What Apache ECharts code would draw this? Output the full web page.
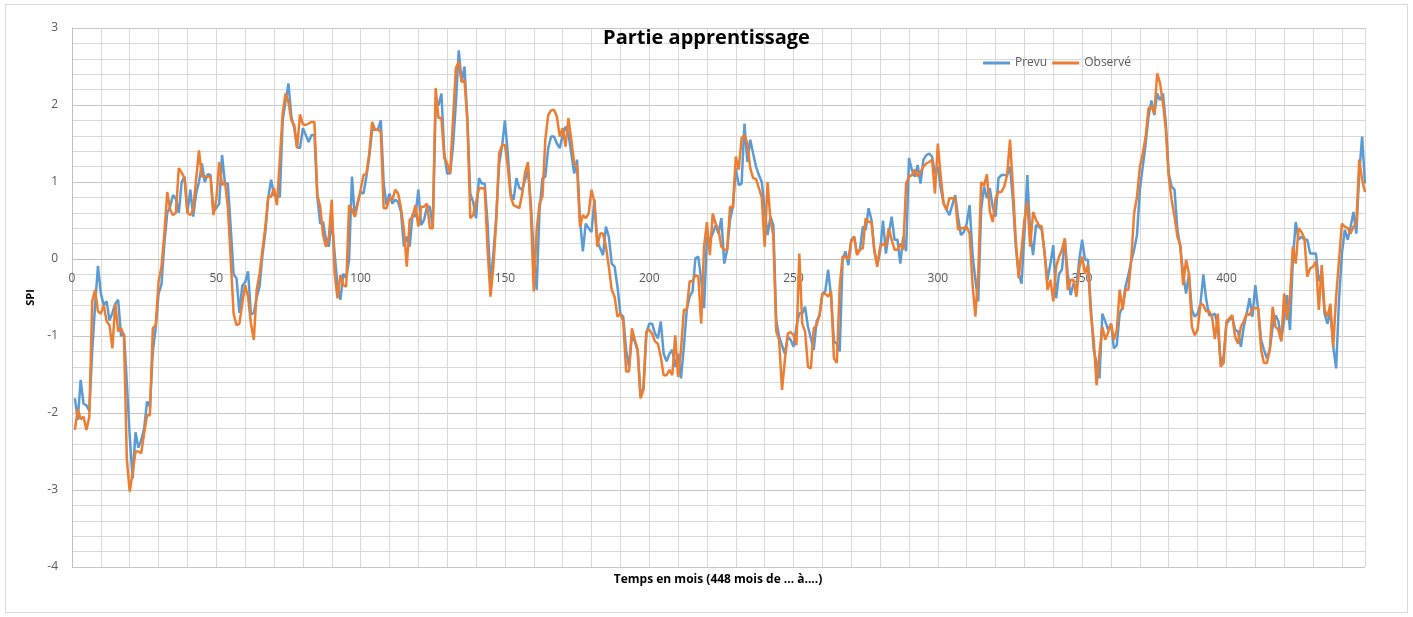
<!DOCTYPE html>
<html>
<head>
<meta charset="utf-8">
<title>Partie apprentissage</title>
<script src="https://cdn.jsdelivr.net/npm/echarts@6/dist/echarts.min.js"></script>
<style>
html, body { margin: 0; padding: 0; background: #fff; }
#frame { position: absolute; left: 5px; top: 4px; width: 1403px; height: 609px; border: 1px solid #d9d9d9; box-sizing: border-box; }
#chart { position: absolute; left: 0; top: 0; width: 1413px; height: 617px; }
</style>
</head>
<body>
<div id="frame"></div>
<div id="chart"></div>
<script>
// SPI values, month 1..448
const prevu = [
  -1.81, -2.09, -1.57, -1.88, -1.9, -1.97, -1.2, -0.6, -0.09, -0.45,
  -0.6, -0.55, -0.8, -0.7, -0.58, -0.53, -1.0, -0.97, -1.6, -2.3,
  -2.85, -2.25, -2.45, -2.35, -2.2, -1.85, -1.92, -1.2, -0.9, -0.45,
  -0.33, 0.2, 0.6, 0.68, 0.83, 0.78, 0.6, 1.0, 1.07, 0.6,
  0.9, 0.55, 0.85, 1.0, 1.24, 1.0, 1.1, 1.09, 0.62, 0.66,
  0.72, 1.35, 0.98, 0.98, 0.4, -0.2, -0.25, -0.7, -0.35, -0.3,
  -0.16, -0.72, -0.7, -0.5, -0.35, 0.05, 0.35, 0.8, 1.03, 0.83,
  0.8, 0.81, 1.8, 2.05, 2.28, 1.85, 1.7, 1.45, 1.44, 1.7,
  1.61, 1.52, 1.61, 1.61, 0.81, 0.46, 0.48, 0.25, 0.16, 0.51,
  0.07, -0.36, -0.53, -0.19, -0.25, -0.01, 1.07, 0.55, 0.74, 0.87,
  0.85, 1.07, 1.33, 1.68, 1.68, 1.68, 1.8, 0.98, 0.7, 0.85,
  0.72, 0.77, 0.74, 0.61, 0.16, 0.29, 0.16, 0.58, 0.55, 0.9,
  0.44, 0.51, 0.68, 0.68, 0.4, 2.0, 2.0, 2.15, 1.37, 1.11,
  1.11, 1.46, 2.02, 2.71, 2.3, 2.5, 1.8, 0.85, 0.74, 0.53,
  1.05, 0.98, 0.98, 0.46, -0.32, 0.07, 0.55, 1.24, 1.46, 1.8,
  1.37, 0.85, 0.77, 1.05, 0.92, 0.9, 1.03, 1.15, 0.7, 0.07,
  -0.4, 0.64, 1.05, 1.07, 1.44, 1.59, 1.59, 1.5, 1.44, 1.61,
  1.72, 1.63, 1.37, 1.11, 1.29, 0.51, 0.1, 0.46, 0.4, 0.35,
  0.77, 0.23, 0.14, 0.05, 0.42, 0.29, -0.06, -0.1, -0.36, -0.71,
  -0.75, -1.18, -1.4, -1.0, -1.07, -1.2, -1.79, -1.67, -0.97, -0.84,
  -0.84, -0.97, -1.03, -0.81, -1.23, -1.33, -1.23, -1.18, -1.4, -1.23,
  -1.55, -1.14, -0.66, -0.49, -0.42, 0.01, 0.03, -0.27, -0.64, 0.29,
  0.25, 0.33, 0.44, 0.33, 0.53, -0.06, 0.12, 0.51, 0.68, 1.18,
  0.96, 0.98, 1.76, 1.26, 1.55, 1.37, 1.2, 1.09, 1.0, 0.65,
  0.31, 0.55, 0.44, -0.79, -1.01, -1.12, -1.23, -1.01, -1.05, -1.14,
  -0.88, -0.7, -0.71, -0.62, -0.88, -1.03, -1.18, -0.81, -0.73, -0.45,
  -0.42, -0.14, -0.49, -1.07, -1.1, -1.2, -0.01, 0.1, -0.08, 0.25,
  0.29, 0.07, 0.12, 0.42, 0.38, 0.66, 0.51, 0.12, -0.08, 0.1,
  0.5, 0.07, 0.33, 0.55, 0.25, 0.25, -0.06, 0.29, 0.1, 1.31,
  1.16, 1.07, 1.22, 0.98, 1.29, 1.35, 1.37, 1.33, 1.11, 1.2,
  0.92, 0.72, 0.64, 0.57, 0.7, 0.83, 0.55, 0.31, 0.35, 0.46,
  0.7, 0.07, -0.27, -0.55, 0.64, 0.94, 0.79, 0.92, 0.68, 0.55,
  1.05, 1.09, 1.09, 1.09, 1.2, 0.77, 0.16, -0.19, -0.32, 0.33,
  1.09, 0.33, 0.05, 0.44, 0.42, 0.38, 0.07, -0.27, -0.06, 0.18,
  -0.51, -0.19, -0.14, 0.25, -0.19, -0.47, -0.32, -0.38, -0.01, 0.25,
  -0.01, -0.01, -0.62, -1.18, -1.35, -1.55, -0.71, -0.81, -0.92, -0.84,
  -1.16, -1.12, -0.71, -0.62, -0.36, -0.21, -0.03, 0.12, 0.31, 0.9,
  1.2, 1.5, 1.85, 2.06, 1.87, 2.15, 2.06, 2.15, 1.76, 1.11,
  0.94, 0.9, 0.38, 0.16, -0.19, -0.45, -0.19, -0.66, -0.75, -0.71,
  -0.58, -0.2, -0.53, -0.73, -0.73, -0.71, -0.88, -1.36, -1.27, -0.84,
  -0.79, -0.75, -0.92, -0.94, -1.14, -0.88, -0.71, -0.51, -0.75, -0.34,
  -0.66, -1.05, -1.18, -1.29, -1.18, -0.88, -0.73, -0.81, -1.05, -0.79,
  -0.47, -0.92, -0.01, 0.48, 0.25, 0.29, 0.25, 0.25, 0.07, 0.07,
  0.07, -0.29, -0.19, -0.71, -0.84, -0.68, -1.14, -1.42, -0.53, 0.07,
  0.38, 0.25, 0.42, 0.61, 0.33, 1.11, 1.59, 0.98
];

const observe = [
  -2.22, -1.95, -2.08, -2.05, -2.22, -2.05, -0.55, -0.4, -0.68, -0.71,
  -0.6, -0.81, -0.86, -1.16, -0.58, -0.94, -0.9, -1.0, -2.6, -3.02,
  -2.78, -2.5, -2.5, -2.52, -2.26, -2.03, -2.03, -0.9, -0.86, -0.29,
  -0.1, 0.33, 0.87, 0.64, 0.57, 0.6, 1.18, 1.12, 1.05, 0.6,
  0.57, 0.64, 1.03, 1.41, 1.07, 1.07, 1.07, 1.07, 0.57, 0.77,
  1.26, 0.96, 1.0, 0.68, -0.01, -0.71, -0.86, -0.84, -0.58, -0.34,
  -0.49, -0.84, -1.05, -0.4, -0.19, 0.12, 0.42, 0.81, 0.81, 0.92,
  0.7, 1.29, 1.89, 2.15, 2.04, 1.8, 1.74, 1.44, 1.88, 1.75,
  1.74, 1.76, 1.78, 1.78, 0.83, 0.68, 0.31, 0.16, 0.29, 0.77,
  -0.19, -0.51, -0.21, -0.34, -0.36, 0.7, 0.64, 0.55, 0.72, 0.9,
  1.09, 1.11, 1.37, 1.78, 1.68, 1.68, 1.65, 0.66, 0.66, 0.79,
  0.77, 0.9, 0.85, 0.66, 0.38, -0.1, 0.51, 0.55, 0.7, 0.42,
  0.68, 0.68, 0.72, 0.4, 0.4, 2.22, 1.83, 1.83, 1.31, 1.24,
  1.11, 1.8, 2.48, 2.56, 2.3, 2.32, 1.8, 0.53, 0.57, 0.74,
  0.92, 0.92, 0.92, 0.12, -0.49, -0.1, 0.51, 1.37, 1.48, 1.48,
  1.2, 0.81, 0.7, 0.68, 0.66, 0.85, 1.13, 1.26, 0.6, -0.42,
  0.38, 0.72, 0.81, 1.55, 1.87, 1.93, 1.94, 1.85, 1.59, 1.7,
  1.46, 1.83, 1.55, 1.24, 1.2, 0.42, 0.57, 0.53, 0.59, 0.9,
  0.74, 0.16, 0.33, 0.33, 0.16, -0.1, -0.4, -0.49, -0.75, -0.71,
  -0.81, -1.46, -1.46, -0.9, -1.05, -1.18, -1.81, -1.7, -0.94, -0.92,
  -0.97, -1.07, -1.1, -1.27, -1.51, -1.51, -1.44, -1.51, -0.99, -1.53,
  -1.18, -0.66, -0.66, -0.29, -0.29, -0.21, -0.23, -0.84, 0.16, 0.48,
  0.05, 0.59, 0.46, 0.38, 0.16, 0.12, 0.12, 0.68, 0.66, 1.33,
  1.16, 1.57, 1.61, 1.5, 1.18, 1.05, 1.04, 0.92, 0.8, 0.16,
  1.0, 0.51, 0.3, -0.94, -1.05, -1.7, -1.31, -0.97, -0.95, -0.99,
  -1.12, 0.07, -0.84, -0.94, -1.4, -1.42, -0.9, -0.86, -0.73, -0.45,
  -0.45, -0.49, -0.42, -1.29, -1.35, -0.36, 0.03, 0.03, 0.0, 0.23,
  0.29, 0.05, 0.12, 0.14, 0.53, 0.48, 0.48, 0.1, -0.1, 0.16,
  0.2, 0.16, 0.4, 0.25, 0.12, 0.12, 0.2, 0.12, 0.98, 1.07,
  1.09, 1.16, 1.07, 1.13, 1.2, 1.24, 1.26, 1.29, 0.85, 1.5,
  1.07, 0.72, 0.64, 0.79, 0.79, 0.79, 0.38, 0.4, 0.4, 0.42,
  0.33, -0.32, -0.75, -0.19, 1.0, 0.95, 1.1, 0.62, 0.48, 0.79,
  0.87, 0.87, 0.94, 1.09, 1.55, 0.94, 0.25, -0.25, 0.12, 0.51,
  0.74, 0.16, 0.61, 0.51, 0.44, 0.42, 0.07, -0.4, -0.27, -0.55,
  -0.1, 0.03, 0.12, 0.27, -0.4, -0.27, -0.27, -0.49, -0.12, 0.03,
  -0.19, -0.08, -0.71, -1.05, -1.64, -1.23, -0.88, -1.05, -0.95, -0.84,
  -1.05, -0.92, -0.4, -0.66, -0.4, -0.4, -0.01, 0.59, 0.81, 1.2,
  1.37, 1.59, 1.96, 1.98, 1.89, 2.41, 2.28, 2.02, 1.68, 1.07,
  0.77, 0.55, 0.29, 0.18, -0.34, -0.01, -0.19, -0.88, -0.99, -0.92,
  -0.58, -0.6, -0.68, -0.68, -0.75, -1.04, -0.71, -1.4, -1.35, -0.81,
  -0.77, -0.73, -1.01, -1.1, -0.88, -0.81, -0.71, -0.73, -0.64, -0.64,
  -0.64, -1.18, -1.35, -1.35, -1.18, -0.62, -0.88, -0.92, -1.07, -0.45,
  -0.79, -0.49, 0.16, -0.06, 0.4, 0.35, 0.27, -0.23, -0.12, -0.1,
  -0.03, -0.66, -0.08, -0.66, -0.75, -0.58, -1.14, -0.49, -0.01, 0.46,
  0.42, 0.4, 0.33, 0.42, 0.46, 1.29, 1.03, 0.87
];

const seriesNames = ['Prevu', 'Observé'];
const xLabelStep = 50;

const font = '"Open Sans", "Noto Sans", sans-serif';
const colors = { prevu: '#5b9bd5', observe: '#ed7d31', label: '#595959', grid: '#d9d9d9', gridMajor: '#c6c6c6' };

const toPoints = (arr) => arr.map((v, i) => [i + 1, v]);

const chart = echarts.init(document.getElementById('chart'));

chart.setOption({
  animation: false,
  textStyle: { fontFamily: font },
  title: {
    text: 'Partie apprentissage',
    left: 'center',
    top: 23,
    textStyle: { fontSize: 20, fontWeight: 'bold', color: '#000', fontFamily: font },
  },
  legend: {
    data: seriesNames,
    left: 978,
    top: 52,
    icon: 'rect',
    itemWidth: 27,
    itemHeight: 3,
    itemGap: 5,
    textStyle: { fontSize: 12, color: colors.label, fontFamily: font },
  },
  grid: { left: 72, right: 48, top: 28, bottom: 50, containLabel: false },
  xAxis: {
    type: 'value',
    min: 0,
    max: 448,
    interval: 10,
    // x axis crosses at SPI = 0 (grid is 539px tall, 0 sits 308px above the bottom)
    position: 'bottom',
    offset: -308,
    axisLine: { onZero: false, lineStyle: { color: '#bfbfbf' } },
    axisTick: { show: false },
    axisLabel: {
      color: colors.label,
      fontSize: 12,
      margin: 14,
      formatter: (v) => (v % xLabelStep === 0 ? String(v) : ''),
    },
    splitLine: { show: true, lineStyle: { color: colors.grid } },
  },
  yAxis: {
    type: 'value',
    min: -4,
    max: 3,
    interval: 1,
    name: 'SPI',
    nameLocation: 'middle',
    nameGap: 34,
    nameTextStyle: { fontSize: 11, fontWeight: 'bold', color: '#000' },
    axisLine: { show: true, onZero: false, lineStyle: { color: '#bfbfbf' } },
    axisTick: { show: false },
    axisLabel: { color: colors.label, fontSize: 12, margin: 14 },
    splitLine: { lineStyle: { color: colors.gridMajor } },
    minorTick: { show: false, splitNumber: 5 },
    minorSplitLine: { show: true, lineStyle: { color: colors.grid } },
  },
  graphic: [{
    type: 'text',
    x: 718,
    y: 580,
    style: {
      text: 'Temps en mois (448 mois de ... à....)',
      textAlign: 'center',
      textVerticalAlign: 'middle',
      font: 'bold 12px ' + font,
      fill: '#000',
    },
  }],
  series: [
    {
      name: seriesNames[0],
      type: 'line',
      data: toPoints(prevu),
      showSymbol: false,
      lineStyle: { width: 2.5, color: colors.prevu },
      itemStyle: { color: colors.prevu },
    },
    {
      name: seriesNames[1],
      type: 'line',
      data: toPoints(observe),
      showSymbol: false,
      lineStyle: { width: 2.5, color: colors.observe },
      itemStyle: { color: colors.observe },
    },
  ],
});
</script>
</body>
</html>
